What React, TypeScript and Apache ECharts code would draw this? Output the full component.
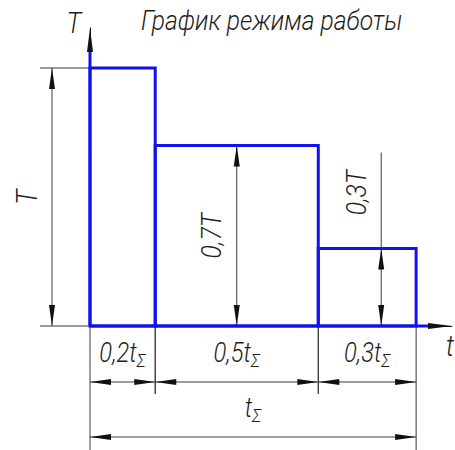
import React, { useEffect, useRef } from "react";
import * as echarts from "echarts";

// ---- data ----
const durations = [0.2, 0.5, 0.3];
const loads = [1, 0.7, 0.3];
const durationLabels = ["0,2t", "0,5t", "0,3t"];
const loadLabels = ["T", "0,7T", "0,3T"];
const totalLabel = "t";
const subLabel = "Σ";
const titleText = "График режима работы";
const yAxisName = "T";
const xAxisName = "t";
const xAxisMax = 1.11;
const yAxisMax = 1.155;

const BLUE = "#1212ee";
const DIM = "#3a3a3a";
const TXT = "#1e1e1e";
const FAMILY = 'Roboto, "DejaVu Sans", sans-serif';
const font = (size: number) => `italic 300 ${size}px ${FAMILY}`;
const SX = 0.88;

function buildItems() {
  let acc = 0;
  return durations.map((d, i) => {
    const s = acc;
    acc += d;
    return [s, acc, loads[i], i];
  });
}

const line = (x1: number, y1: number, x2: number, y2: number) => ({
  type: "line",
  shape: { x1, y1, x2, y2 },
  style: { stroke: DIM, lineWidth: 1 },
});

const arrow = (tx: number, ty: number, dx: number, dy: number, L = 21, w = 3) => {
  const px = -dy;
  const py = dx;
  return {
    type: "polygon",
    shape: {
      points: [
        [tx, ty],
        [tx - dx * L + px * w, ty - dy * L + py * w],
        [tx - dx * L - px * w, ty - dy * L - py * w],
      ],
    },
    style: { fill: "#111" },
  };
};

const richLabel = (main: string) => ({
  text: `{m|${main}}{s|${subLabel}}`,
  rich: {
    m: { font: font(27), fill: TXT, lineHeight: 29, verticalAlign: "top" },
    s: { font: font(19), fill: TXT, lineHeight: 19, verticalAlign: "top", padding: [12, 0, 0, 0] },
  },
  align: "center",
  verticalAlign: "bottom",
});

export default function App() {
  const ref = useRef<HTMLDivElement>(null);
  useEffect(() => {
    if (!ref.current) return;
    const chart = echarts.init(ref.current, null, { renderer: "svg" });
    const items = buildItems();
    const total = durations.reduce((a, b) => a + b, 0);

    const axisCommon = {
      type: "value",
      min: 0,
      axisTick: { show: false },
      axisLabel: { show: false },
      splitLine: { show: false },
      axisLine: {
        show: true,
        onZero: false,
        symbol: ["none", "triangle"],
        symbolSize: [6, 24],
        symbolOffset: [0, -12],
        lineStyle: { color: "#111", width: 1 },
      },
    };

    chart.setOption({
      animation: false,
      grid: { left: 90, right: 3, top: 28, bottom: 124 },
      xAxis: { ...axisCommon, max: xAxisMax },
      yAxis: { ...axisCommon, max: yAxisMax },
      graphic: [
        {
          type: "text",
          x: 141,
          y: 20,
          scaleX: SX,
          style: { text: titleText, font: font(28), fill: TXT, align: "left", verticalAlign: "middle" },
        },
        {
          type: "text",
          x: 74,
          y: 23,
          scaleX: SX,
          style: { text: yAxisName, font: font(29), fill: TXT, align: "center", verticalAlign: "middle" },
        },
        {
          type: "text",
          x: 446,
          y: 346,
          scaleX: SX,
          style: { text: xAxisName, font: font(29), fill: TXT, align: "left", verticalAlign: "middle" },
        },
      ],
      series: [
        {
          name: "Размеры",
          type: "custom",
          z: 2,
          clip: false,
          data: items,
          renderItem: (params: any, api: any) => {
            const s = api.value(0);
            const e = api.value(1);
            const v = api.value(2);
            const i = params.dataIndex;
            const n = items.length;
            const [xs, yTop] = api.coord([s, v]);
            const [xe, y0] = api.coord([e, 0]);
            const mid = (xs + xe) / 2;
            const children: any[] = [];
            // vertical dimension
            let dx: number;
            let lineTop = yTop;
            let labelY = (yTop + y0) / 2;
            if (i === 0) {
              dx = xs - 38;
              children.push(line(dx - 12, yTop, xs, yTop));
              children.push(line(dx - 12, y0, xs, y0));
            } else if (i === n - 1) {
              dx = mid + 14;
              lineTop = yTop - 96;
              labelY = yTop - 56;
            } else {
              dx = mid;
            }
            children.push(line(dx, lineTop, dx, y0));
            children.push(arrow(dx, yTop, 0, -1));
            children.push(arrow(dx, y0, 0, 1));
            children.push({
              type: "text",
              x: dx - 25,
              y: labelY,
              rotation: Math.PI / 2,
              scaleX: SX,
              style: {
                text: loadLabels[i],
                font: font(i === 0 ? 30 : 28),
                fill: TXT,
                align: "center",
                verticalAlign: "middle",
              },
            });
            // horizontal dimension (row 1)
            const r1 = y0 + 56;
            const bottom = y0 + 130;
            children.push(line(xs, y0, xs, i === 0 ? bottom : r1 + 12));
            children.push(line(xe, y0, xe, i === n - 1 ? bottom : r1 + 12));
            children.push(line(xs, r1, xe, r1));
            children.push(arrow(xs, r1, -1, 0));
            children.push(arrow(xe, r1, 1, 0));
            children.push({
              type: "text",
              x: mid,
              y: r1 - 14,
              scaleX: SX,
              style: richLabel(durationLabels[i]),
            });
            return { type: "group", children };
          },
        },
        {
          name: "Итого",
          type: "custom",
          z: 2,
          clip: false,
          data: [[0, total]],
          renderItem: (params: any, api: any) => {
            const [xs, y0] = api.coord([api.value(0), 0]);
            const [xe] = api.coord([api.value(1), 0]);
            const r2 = y0 + 111;
            const [, yEnd] = api.coord([0, yAxisMax]);
            const [xEnd] = api.coord([xAxisMax, 0]);
            return {
              type: "group",
              children: [
                line(xs, r2, xe, r2),
                arrow(xs, r2, -1, 0),
                arrow(xe, r2, 1, 0),
                { type: "text", x: (xs + xe) / 2, y: r2 - 14, scaleX: SX, style: richLabel(totalLabel) },
                {
                  type: "line",
                  shape: { x1: xs, y1: y0, x2: xs, y2: yEnd + 24 },
                  style: { stroke: BLUE, lineWidth: 3 },
                },
                {
                  type: "line",
                  shape: { x1: xs, y1: y0, x2: xEnd - 24, y2: y0 },
                  style: { stroke: BLUE, lineWidth: 3 },
                },
              ],
            };
          },
        },
        {
          name: "Режим",
          type: "custom",
          z: 3,
          clip: false,
          data: items,
          renderItem: (params: any, api: any) => {
            const p0 = api.coord([api.value(0), api.value(2)]);
            const p1 = api.coord([api.value(1), 0]);
            return {
              type: "rect",
              shape: { x: p0[0], y: p0[1], width: p1[0] - p0[0], height: p1[1] - p0[1] },
              style: { fill: "none", stroke: BLUE, lineWidth: 3, lineJoin: "miter" },
            };
          },
        },
      ],
    });
    return () => chart.dispose();
  }, []);
  return (
    <div
      ref={ref}
      style={{ position: "fixed", left: 0, top: 0, width: 455, height: 450, background: "#fff" }}
    />
  );
}
